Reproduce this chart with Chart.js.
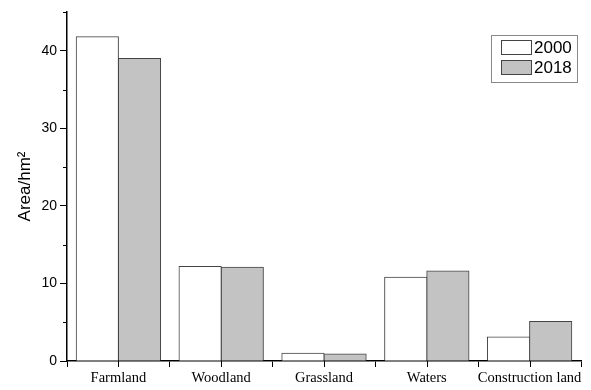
<!DOCTYPE html>
<html>
<head>
<meta charset="utf-8">
<script src="https://cdn.jsdelivr.net/npm/chart.js@4.4.1/dist/chart.umd.min.js"></script>
<style>
  html, body { margin: 0; padding: 0; background: #fff; }
</style>
</head>
<body>
<canvas id="landChart" width="591" height="390"></canvas>
<script>
const categories = ["Farmland", "Woodland", "Grassland", "Waters", "Construction land"];
const area2000 = [41.8, 12.2, 1.0, 10.8, 3.1];
const area2018 = [39.0, 12.1, 0.9, 11.6, 5.1];
const seriesLabels = ["2000", "2018"];
const yTicks = [0, 10, 20, 30, 40];

// minor ticks on y, and ticks at category centres on x
const axisTicks = {
    id: "axisTicks",
    afterDraw(chart) {
        const ctx = chart.ctx;
        const x = chart.scales.x;
        const y = chart.scales.y;
        ctx.save();
        ctx.strokeStyle = "#000";
        ctx.lineWidth = 1;
        ctx.beginPath();
        for (let v = 5; v <= 45; v += 10) {
            const py = Math.round(y.getPixelForValue(v)) + 0.5;
            ctx.moveTo(x.left, py);
            ctx.lineTo(x.left - 4, py);
        }
        categories.forEach((c, i) => {
            const px = Math.round(x.getPixelForValue(i)) + 0.5;
            ctx.moveTo(px, y.bottom);
            ctx.lineTo(px, y.bottom + 6);
        });
        ctx.stroke();
        ctx.restore();
    }
};

// framed legend in the upper right corner
const boxLegend = {
    id: "boxLegend",
    afterDraw(chart) {
        const ctx = chart.ctx;
        const left = 491, top = 35, w = 86, h = 47;
        ctx.save();
        ctx.fillStyle = "#fff";
        ctx.fillRect(left, top, w, h);
        ctx.strokeStyle = "#888";
        ctx.lineWidth = 1;
        ctx.strokeRect(left + 0.5, top + 0.5, w, h);
        ctx.font = "17px Arial, 'Liberation Sans'";
        ctx.textBaseline = "middle";
        chart.data.datasets.forEach((ds, i) => {
            const sy = top + 5 + i * 20;
            ctx.fillStyle = ds.backgroundColor;
            ctx.fillRect(left + 10, sy, 30, 14);
            ctx.strokeStyle = "#444";
            ctx.strokeRect(left + 10.5, sy + 0.5, 30, 14);
            ctx.fillStyle = "#000";
            ctx.fillText(ds.label, left + 43, sy + 8);
        });
        ctx.restore();
    }
};

const ctx = document.getElementById("landChart").getContext("2d");

new Chart(ctx, {
    type: "bar",
    data: {
        labels: categories,
        datasets: [
            {
                label: seriesLabels[0],
                data: area2000,
                backgroundColor: "#ffffff",
                borderColor: "#444444",
                borderWidth: 1,
                inflateAmount: 0.5
            },
            {
                label: seriesLabels[1],
                data: area2018,
                backgroundColor: "#c3c3c3",
                borderColor: "#444444",
                borderWidth: 1,
                inflateAmount: 0.5
            }
        ]
    },
    options: {
        responsive: false,
        animation: false,
        layout: { padding: { top: 12, right: 10, left: 0, bottom: 0 } },
        datasets: {
            bar: { categoryPercentage: 0.82, barPercentage: 1.0 }
        },
        plugins: {
            legend: { display: false },
            tooltip: { enabled: false }
        },
        scales: {
            x: {
                afterFit(scale) { scale.height = 29; },
                border: { color: "#000", width: 1.5 },
                grid: {
                    offset: true,
                    drawOnChartArea: false,
                    tickLength: 6,
                    tickColor: "#000"
                },
                ticks: {
                    color: "#000",
                    padding: 2,
                    autoSkip: false,
                    maxRotation: 0,
                    font: { family: "'Liberation Serif', 'Times New Roman', serif", size: 14.5 }
                }
            },
            y: {
                min: 0,
                max: 45,
                afterFit(scale) { scale.width = 67; },
                afterBuildTicks(scale) {
                    scale.ticks = yTicks.map(v => ({ value: v }));
                },
                border: { color: "#000", width: 1.5 },
                grid: {
                    drawOnChartArea: false,
                    tickLength: 7,
                    tickColor: "#000"
                },
                ticks: {
                    color: "#000",
                    padding: 3,
                    font: { family: "Arial, 'Liberation Sans'", size: 14 }
                },
                title: {
                    display: true,
                    text: "Area/hm²",
                    color: "#000",
                    padding: { top: 15, bottom: 0 },
                    font: { family: "Arial, 'Liberation Sans'", size: 17 }
                }
            }
        }
    },
    plugins: [axisTicks, boxLegend]
});
</script>
</body>
</html>
